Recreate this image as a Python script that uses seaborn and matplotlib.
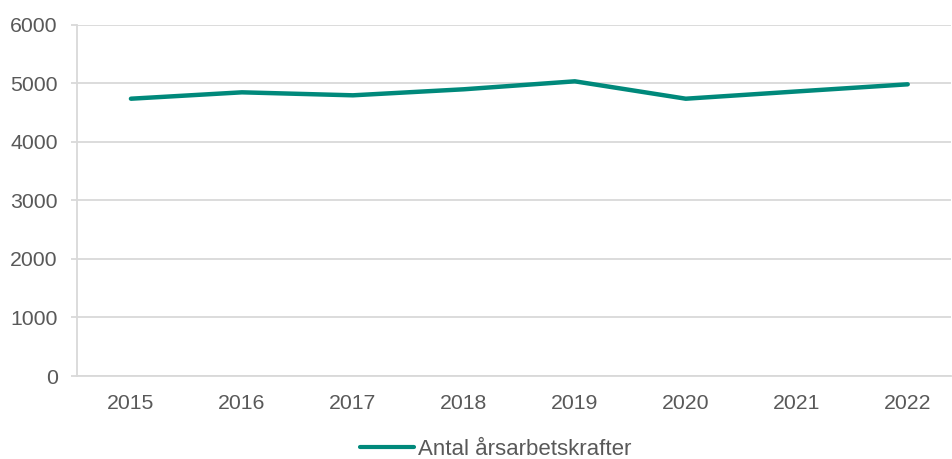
import matplotlib
matplotlib.use("Agg")
import matplotlib.pyplot as plt
import seaborn as sns
import pandas as pd

years = ["2015", "2016", "2017", "2018", "2019", "2020", "2021", "2022"]
values = [4736, 4845, 4794, 4897, 5033, 4736, 4860, 4982]
series_name = "Antal årsarbetskrafter"

sns.set_theme(style="white")
plt.rcParams['font.family'] = ['Liberation Sans', 'DejaVu Sans']

df = pd.DataFrame({"x": range(len(years)), "y": values, "s": series_name})

fig = plt.figure(figsize=(9.52, 4.59), dpi=100)
ax = fig.add_axes([77/952, 83/459, (951-77)/952, (376-24.7)/459])

sns.lineplot(data=df, x="x", y="y", hue="s", palette=["#00897B"], linewidth=3.2,
             ax=ax, legend=True)

grey = "#595959"
gridc = "#D9D9D9"
ax.set_ylim(0, 6000)
ax.set_yticks(range(0, 6001, 1000))
ax.set_xlim(-0.486, 7.39)
ax.set_xticks(range(len(years)))
ax.set_xticklabels(years)
ax.yaxis.grid(True, color=gridc, linewidth=1.3)
ax.xaxis.grid(False)
for s in ["top", "right"]:
    ax.spines[s].set_visible(False)
for s in ["left", "bottom"]:
    ax.spines[s].set_color(gridc)
    ax.spines[s].set_linewidth(1.3)
ax.tick_params(axis="y", which="both", left=True, length=4.5, width=1.3, color=gridc,
               labelsize=15.3, labelcolor=grey, pad=9.5)
ax.tick_params(axis="x", which="both", bottom=False, labelsize=15.3, labelcolor=grey, pad=7)
ax.set_xlabel("")
ax.set_ylabel("")

handles, labels = ax.get_legend_handles_labels()
leg = ax.legend(handles, labels, loc="upper center", bbox_to_anchor=(0.479, -0.135),
          frameon=False, fontsize=16, labelcolor=grey, handlelength=2.45,
          handletextpad=0.2, borderpad=0.2)
for h in leg.get_lines():
    h.set_linewidth(3)

fig.savefig("out.png", dpi=100)
